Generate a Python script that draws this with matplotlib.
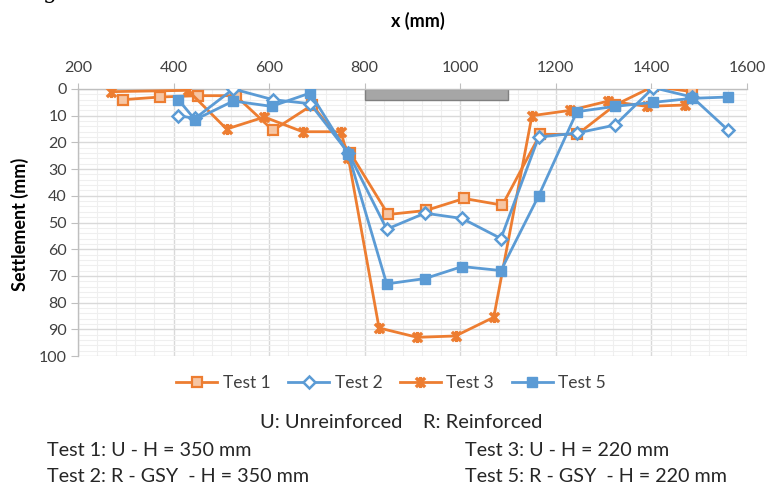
import matplotlib
matplotlib.use("Agg")
import matplotlib.pyplot as plt
from matplotlib.patches import Rectangle
from matplotlib.path import Path
from matplotlib.ticker import MultipleLocator

plt.rcParams['font.family'] = ['Lato', 'DejaVu Sans']

# ---- data ----
test1_x = [294, 372, 452, 530, 608, 690, 770, 849, 928, 1008, 1088, 1167, 1245, 1324, 1404, 1485]
test1_y = [4, 3, 2.5, 2.5, 15.5, 6, 24, 47, 45.5, 41, 43.5, 17, 17, 6, -1, 1]

test2_x = [410, 445, 525, 608, 686, 766, 846, 926, 1004, 1085, 1164, 1244, 1324, 1404, 1485, 1561]
test2_y = [10, 11, 0, 4, 5.5, 24, 52.5, 46.5, 48.5, 56, 18, 16.5, 13.5, -0.5, 3, 15.5]

test3_x = [270, 430, 511, 590, 670, 750, 766, 830, 910, 990, 1070, 1150, 1230, 1310, 1390, 1470]
test3_y = [1, 0.5, 15, 10.5, 16, 16, 26, 89.5, 93, 92.5, 85.5, 10, 8, 4.5, 6.5, 6]

test5_x = [410, 445, 525, 605, 686, 766, 846, 926, 1004, 1085, 1164, 1244, 1324, 1404, 1485, 1561]
test5_y = [4, 11.5, 4.5, 6.5, 1.5, 24.5, 73, 71, 66.5, 68, 40, 8.5, 6.5, 5, 3.5, 3]

footing_x = [800, 1100]
footing_depth = 4

x_ticks = [200, 400, 600, 800, 1000, 1200, 1400, 1600]
y_ticks = [0, 10, 20, 30, 40, 50, 60, 70, 80, 90, 100]

ORANGE = '#ED7D31'
BLUE = '#5B9BD5'
TXT = '#262626'

# Excel-style star marker: X plus vertical bar
star = Path([(-1, -1), (1, 1), (-1, 1), (1, -1), (0, -1.2), (0, 1.2)],
            [Path.MOVETO, Path.LINETO, Path.MOVETO, Path.LINETO, Path.MOVETO, Path.LINETO])

fig = plt.figure(figsize=(7.67, 4.87), dpi=100)
ax = fig.add_axes([78/767, 1-356/487, (747-78)/767, (356-89)/487])

ax.set_xlim(200, 1600)
ax.set_ylim(100, 0)

ax.xaxis.set_major_locator(MultipleLocator(200))
ax.xaxis.set_minor_locator(MultipleLocator(40))
ax.yaxis.set_major_locator(MultipleLocator(10))
ax.yaxis.set_minor_locator(MultipleLocator(2))
ax.set_xticks(x_ticks)
ax.set_yticks(y_ticks)
ax.grid(which='major', color='#D9D9D9', linewidth=1.0, zorder=0)
ax.grid(which='minor', color='#EFEFEF', linewidth=0.8, zorder=0)
ax.set_axisbelow(True)

ax.xaxis.tick_top()
ax.tick_params(axis='x', which='major', direction='out', length=4, color='#BFBFBF',
               pad=6, labelsize=11.5, labelcolor='#404040')
ax.tick_params(axis='y', which='major', direction='out', length=5, color='#BFBFBF',
               pad=3, labelsize=11.5, labelcolor='#404040')
ax.tick_params(which='minor', length=0)

for s in ['bottom', 'right']:
    ax.spines[s].set_visible(False)
for s in ['top', 'left']:
    ax.spines[s].set_color('#BFBFBF')
    ax.spines[s].set_linewidth(1.0)

# footing
ax.add_patch(Rectangle((footing_x[0], 0), footing_x[1]-footing_x[0], footing_depth,
                       facecolor='#A6A6A6', edgecolor='#7F7F7F', linewidth=1.0, zorder=2))

lw = 2.0
l1, = ax.plot(test1_x, test1_y, color=ORANGE, lw=lw, marker='s', ms=7,
              mfc='#F6C6A4', mec=ORANGE, mew=1.6, label='Test 1', zorder=3)
l2, = ax.plot(test2_x, test2_y, color=BLUE, lw=lw, marker='D', ms=6,
              mfc='white', mec=BLUE, mew=1.8, label='Test 2', zorder=4)
l3, = ax.plot(test3_x, test3_y, color=ORANGE, lw=lw, marker=star, ms=8,
              mec=ORANGE, mew=2.4, label='Test 3', zorder=3)
l5, = ax.plot(test5_x, test5_y, color=BLUE, lw=lw, marker='s', ms=7,
              mfc=BLUE, mec=BLUE, label='Test 5', zorder=4)

fig.text(418/767, 1-21/487, 'x (mm)', ha='center', va='center', fontsize=13,
         fontweight='bold', color='black')
fig.text(20/767, 1-224/487, 'Settlement (mm)', ha='center', va='center', fontsize=13,
         fontweight='bold', color='black', rotation=90)

# fragment of caption cut at top edge (as in the reference)
fig.text(50/767, 1+2/487, 'g', ha='center', va='baseline', fontsize=16,
         family='DejaVu Serif', color='black')

fig.legend(handles=[l1, l2, l3, l5], loc='center', bbox_to_anchor=(391/767, 1-383/487),
           ncol=4, frameon=False, fontsize=12.5, handlelength=2.4, handletextpad=0.3,
           columnspacing=1.0, labelcolor='#404040')

fs = 14.2
fig.text(401/767, 1-423/487, 'U: Unreinforced    R: Reinforced', ha='center', va='center',
         fontsize=14.5, color=TXT)
fig.text(47/767, 1-450/487, 'Test 1: U - H = 350 mm', ha='left', va='center', fontsize=fs, color=TXT)
fig.text(47/767, 1-476/487, 'Test 2: R - GSY  - H = 350 mm', ha='left', va='center', fontsize=fs, color=TXT)
fig.text(465/767, 1-450/487, 'Test 3: U - H = 220 mm', ha='left', va='center', fontsize=fs, color=TXT)
fig.text(465/767, 1-476/487, 'Test 5: R - GSY  - H = 220 mm', ha='left', va='center', fontsize=fs, color=TXT)

fig.savefig('out.png', dpi=100)
